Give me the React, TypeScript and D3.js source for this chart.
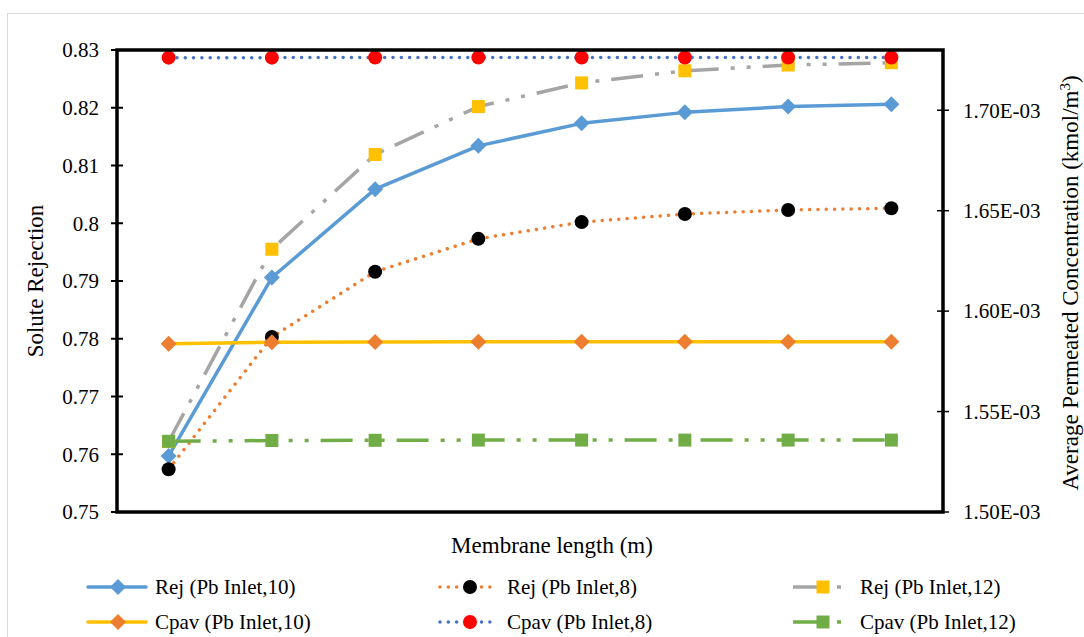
import React from "react";
import * as d3 from "d3";

const categories = ["1", "2", "3", "4", "5", "6", "7", "8"];
const rej10 = [0.7597, 0.7906, 0.8059, 0.8134, 0.8173, 0.8192, 0.8202, 0.8206];
const rej8 = [0.7574, 0.7803, 0.7916, 0.7973, 0.8002, 0.8016, 0.8023, 0.8026];
const rej12 = [0.7622, 0.7955, 0.8119, 0.8202, 0.8243, 0.8264, 0.8274, 0.8278];
const cpav10 = [1.5838e-3, 1.5845e-3, 1.5846e-3, 1.5847e-3, 1.5847e-3, 1.5847e-3, 1.5847e-3, 1.5847e-3];
const cpav8 = [1.7262e-3, 1.7262e-3, 1.7263e-3, 1.7263e-3, 1.7263e-3, 1.7263e-3, 1.7263e-3, 1.7263e-3];
const cpav12 = [1.5352e-3, 1.5356e-3, 1.5357e-3, 1.5358e-3, 1.5358e-3, 1.5358e-3, 1.5358e-3, 1.5358e-3];
const leftTicks = [0.75, 0.76, 0.77, 0.78, 0.79, 0.8, 0.81, 0.82, 0.83];
const rightTicks = [1.5e-3, 1.55e-3, 1.6e-3, 1.65e-3, 1.7e-3];

const FONT = '"Liberation Serif", "Times New Roman", "DejaVu Serif", serif';
const TS: React.CSSProperties = { fontFamily: FONT };
const W = 1084, H = 637;
const PL = 117, PR = 943, PT = 50, PB = 512;

type Marker = "diamond" | "circle" | "square";
interface Series {
  name: string;
  values: number[];
  axis: "L" | "R";
  stroke: string;
  dash: string;
  cap: "round" | "butt";
  marker: Marker;
  mfill: string;
  msize: number;
}

const DOT = "0.01 8.3";
const LDDD = "32 12 4 12 4 12";

const series: Series[] = [
  { name: "Rej (Pb Inlet,10)", values: rej10, axis: "L", stroke: "#5b9bd5", dash: "", cap: "round", marker: "diamond", mfill: "#5b9bd5", msize: 8 },
  { name: "Rej (Pb Inlet,8)", values: rej8, axis: "L", stroke: "#ed7d31", dash: DOT, cap: "round", marker: "circle", mfill: "#000000", msize: 7 },
  { name: "Rej (Pb Inlet,12)", values: rej12, axis: "L", stroke: "#a5a5a5", dash: LDDD, cap: "butt", marker: "square", mfill: "#ffc000", msize: 6.5 },
  { name: "Cpav (Pb Inlet,10)", values: cpav10, axis: "R", stroke: "#ffc000", dash: "", cap: "round", marker: "diamond", mfill: "#ed7d31", msize: 8 },
  { name: "Cpav (Pb Inlet,8)", values: cpav8, axis: "R", stroke: "#4472c4", dash: DOT, cap: "round", marker: "circle", mfill: "#ff0000", msize: 7 },
  { name: "Cpav (Pb Inlet,12)", values: cpav12, axis: "R", stroke: "#70ad47", dash: LDDD, cap: "butt", marker: "square", mfill: "#70ad47", msize: 6.5 },
];

function MarkerShape({ m, x, y, fill, s }: { m: Marker; x: number; y: number; fill: string; s: number }) {
  if (m === "circle") return <circle cx={x} cy={y} r={s} fill={fill} />;
  if (m === "square") return <rect x={x - s} y={y - s} width={2 * s} height={2 * s} fill={fill} />;
  return <path d={`M${x},${y - s}L${x + s},${y}L${x},${y + s}L${x - s},${y}Z`} fill={fill} />;
}

export default function App() {
  const x = d3.scaleBand<string>().domain(categories).range([PL, PR]);
  const yL = d3.scaleLinear().domain([0.75, 0.83]).range([PB, PT]);
  const yR = d3.scaleLinear().domain([1.5e-3, 1.73e-3]).range([PB, PT]);
  const cx = (c: string) => (x(c) as number) + x.bandwidth() / 2;

  const legendCols = [88, 440, 793];
  const legendRows = [587, 622];

  return (
    <svg width={W} height={H} style={{ position: "absolute", left: 0, top: 0, background: "#fff", fontFamily: FONT }}>
      <rect x={0} y={0} width={W} height={H} fill="#fff" />
      <rect x={7.5} y={13.5} width={1200} height={800} fill="none" stroke="#d9d9d9" strokeWidth={1} />

      {series.map((s) => {
        const sc = s.axis === "L" ? yL : yR;
        const line = d3.line<number>().x((_, i) => cx(categories[i])).y((v) => sc(v));
        return (
          <path key={s.name + "l"} d={line(s.values) || ""} fill="none" stroke={s.stroke} strokeWidth={3.5}
            strokeDasharray={s.dash || undefined} strokeLinecap={s.cap} strokeLinejoin="round" />
        );
      })}
      {series.map((s) => {
        const sc = s.axis === "L" ? yL : yR;
        return (
          <g key={s.name + "m"}>
            {s.values.map((v, i) => (
              <MarkerShape key={i} m={s.marker} x={cx(categories[i])} y={sc(v)} fill={s.mfill} s={s.msize} />
            ))}
          </g>
        );
      })}

      <rect x={PL} y={PT} width={PR - PL} height={PB - PT} fill="none" stroke="#000" strokeWidth={3.5} />

      {leftTicks.map((t) => (
        <g key={"l" + t}>
          <line x1={PL - 6} x2={PL + 6} y1={yL(t)} y2={yL(t)} stroke="#000" strokeWidth={2} />
          <text x={99} y={yL(t)} dy="0.35em" textAnchor="end" fontSize={21} fill="#000" style={TS}>
            {String(+t.toFixed(2))}
          </text>
        </g>
      ))}
      {rightTicks.map((t) => (
        <g key={"r" + t}>
          <line x1={PR - 6} x2={PR + 6} y1={yR(t)} y2={yR(t)} stroke="#000" strokeWidth={1.5} />
          <text x={963} y={yR(t)} dy="0.35em" textAnchor="start" fontSize={21} fill="#000" style={TS}>
            {(t * 1000).toFixed(2) + "E-03"}
          </text>
        </g>
      ))}

      <text x={552} y={545} dy="0.35em" textAnchor="middle" fontSize={23} fill="#000" style={TS}>Membrane length (m)</text>
      <text transform={`translate(35,${(PT + PB) / 2}) rotate(-90)`} dy="0.35em" textAnchor="middle" fontSize={23} fill="#000" style={TS}>
        Solute Rejection
      </text>
      <text transform={`translate(1070,${(PT + PB) / 2 + 2}) rotate(-90)`} dy="0.35em" textAnchor="middle" fontSize={23} fill="#000" style={TS}>
        Average Permeated Concentration (kmol/m<tspan dy="-8" fontSize={15}>3</tspan><tspan dy="8">)</tspan>
      </text>

      {series.map((s, i) => {
        const col = legendCols[i % 3];
        const row = legendRows[Math.floor(i / 3)];
        return (
          <g key={s.name + "lg"}>
            <line x1={col} x2={col + 58} y1={row} y2={row} stroke={s.stroke} strokeWidth={3.5}
              strokeDasharray={s.dash || undefined} strokeLinecap={s.cap} />
            <MarkerShape m={s.marker} x={col + 30} y={row} fill={s.mfill} s={s.msize} />
            <text x={col + 67} y={row} dy="0.35em" fontSize={21} fill="#000" style={TS}>{s.name}</text>
          </g>
        );
      })}
    </svg>
  );
}
